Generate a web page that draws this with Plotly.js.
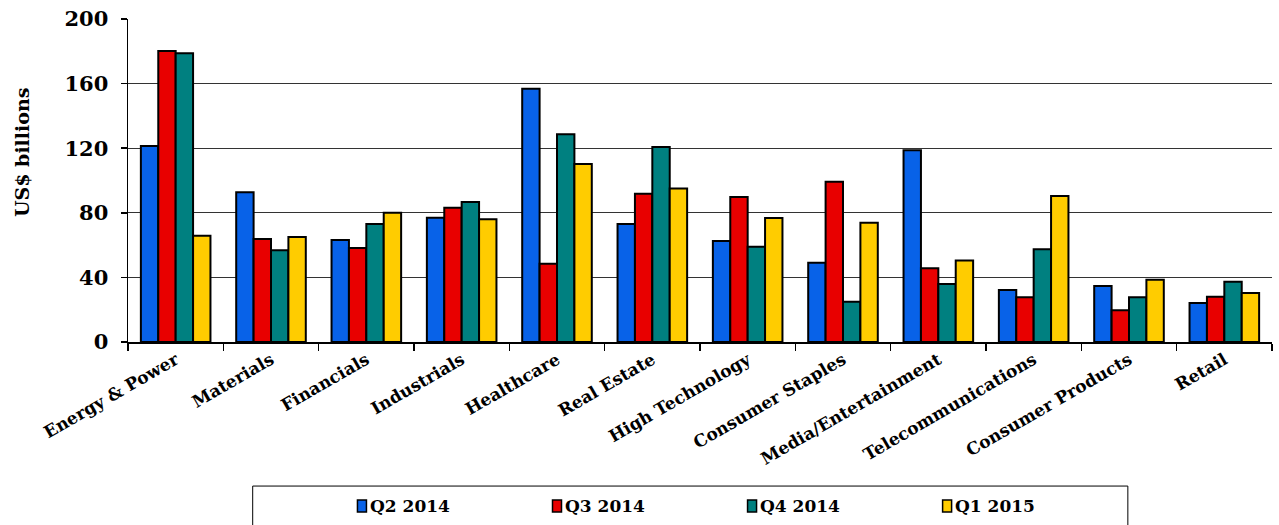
<!DOCTYPE html>
<html>
<head>
<meta charset="utf-8">
<script src="https://cdn.plot.ly/plotly-3.0.1.min.js"></script>
<style>
  html, body { margin: 0; padding: 0; background: #fff; }
  #chart { width: 1279px; height: 525px; }
</style>
</head>
<body>
<div id="chart"></div>
<script>
// Deal value by sector, US$ billions
const sectors = [
  "Energy & Power", "Materials", "Financials", "Industrials", "Healthcare",
  "Real Estate", "High Technology", "Consumer Staples", "Media/Entertainment",
  "Telecommunications", "Consumer Products", "Retail"
];
const seriesNames = ["Q2 2014", "Q3 2014", "Q4 2014", "Q1 2015"];
const q2_2014 = [121.4, 92.7, 63.2, 77.0, 156.8, 73.0, 62.5, 49.1, 118.7, 32.2, 34.7, 24.1];
const q3_2014 = [180.2, 63.8, 58.2, 83.2, 48.5, 91.8, 89.8, 99.3, 45.6, 27.7, 19.6, 28.0];
const q4_2014 = [178.8, 56.8, 73.0, 86.7, 128.6, 120.7, 59.0, 25.0, 35.9, 57.4, 27.7, 37.3];
const q1_2015 = [65.8, 65.0, 80.0, 76.0, 110.2, 95.1, 76.8, 73.9, 50.4, 90.4, 38.6, 30.3];
const yTicks = [0, 40, 80, 120, 160, 200];

const seriesValues = [q2_2014, q3_2014, q4_2014, q1_2015];
const colors = ["#0862E8", "#E80000", "#008080", "#FFCC00"];
const FONT = "DejaVu Serif, Liberation Serif, serif";

const traces = seriesValues.map((vals, i) => ({
  type: "bar",
  name: seriesNames[i],
  x: sectors,
  y: vals,
  marker: { color: colors[i], line: { color: "#000", width: 2 } },
  showlegend: false
}));

// Legend drawn as a boxed row of keys below the plot
const legendY = -0.5077;
const legendKeyX = [0.2045, 0.375, 0.5455, 0.716];
const shapes = [{
  type: "rect", xref: "paper", yref: "paper",
  x0: 0.109, x1: 0.874, y0: -0.446, y1: -0.62,
  line: { color: "#000", width: 1 }, fillcolor: "rgba(0,0,0,0)", layer: "below"
}];
const annotations = [];
seriesNames.forEach((name, i) => {
  shapes.push({
    type: "rect", xref: "paper", yref: "paper",
    xsizemode: "pixel", ysizemode: "pixel",
    xanchor: legendKeyX[i], yanchor: legendY,
    x0: -4.5, x1: 4.5, y0: -6, y1: 6,
    fillcolor: colors[i], line: { color: "#000", width: 1.5 }
  });
  annotations.push({
    xref: "paper", yref: "paper",
    x: legendKeyX[i], y: legendY, xanchor: "left", yanchor: "middle",
    xshift: 6, showarrow: false,
    text: "<b>" + name + "</b>",
    font: { family: FONT, size: 17, color: "#000" }
  });
});
annotations.push({
  xref: "paper", yref: "paper",
  x: -0.0927, y: 0.588, xanchor: "center", yanchor: "middle",
  textangle: -90, showarrow: false,
  text: "<b>US$ billions</b>",
  font: { family: FONT, size: 19, color: "#000" }
});

const layout = {
  width: 1279,
  height: 525,
  margin: { l: 128, r: 7, t: 19, b: 183 },
  paper_bgcolor: "#fff",
  plot_bgcolor: "#fff",
  barmode: "group",
  bargap: 0.27,
  bargroupgap: 0,
  font: { family: FONT, color: "#000" },
  showlegend: false,
  xaxis: {
    type: "category",
    automargin: false,
    tickangle: -30,
    tickfont: { family: FONT, size: 17, color: "#000" },
    tickprefix: "<b>", ticksuffix: "</b>",
    showline: true, linecolor: "#000", linewidth: 1.5,
    ticks: "outside", ticklen: 7, tickcolor: "#000", tickwidth: 1.5,
    tickson: "boundaries",
    showgrid: false,
    fixedrange: true
  },
  yaxis: {
    automargin: false,
    range: [0, 200],
    tickvals: yTicks,
    ticktext: yTicks.map(v => "<b>" + v + "</b>"),
    tickfont: { family: FONT, size: 21, color: "#000" },
    showline: true, linecolor: "#000", linewidth: 1.5,
    ticks: "outside", ticklen: 6, tickcolor: "#000", tickwidth: 1.5,
    ticklabelstandoff: 8,
    showgrid: true, gridcolor: "#333", gridwidth: 1.2,
    zeroline: false,
    fixedrange: true
  },
  shapes: shapes,
  annotations: annotations
};

Plotly.newPlot("chart", traces, layout, { displayModeBar: false, staticPlot: true });
</script>
</body>
</html>
